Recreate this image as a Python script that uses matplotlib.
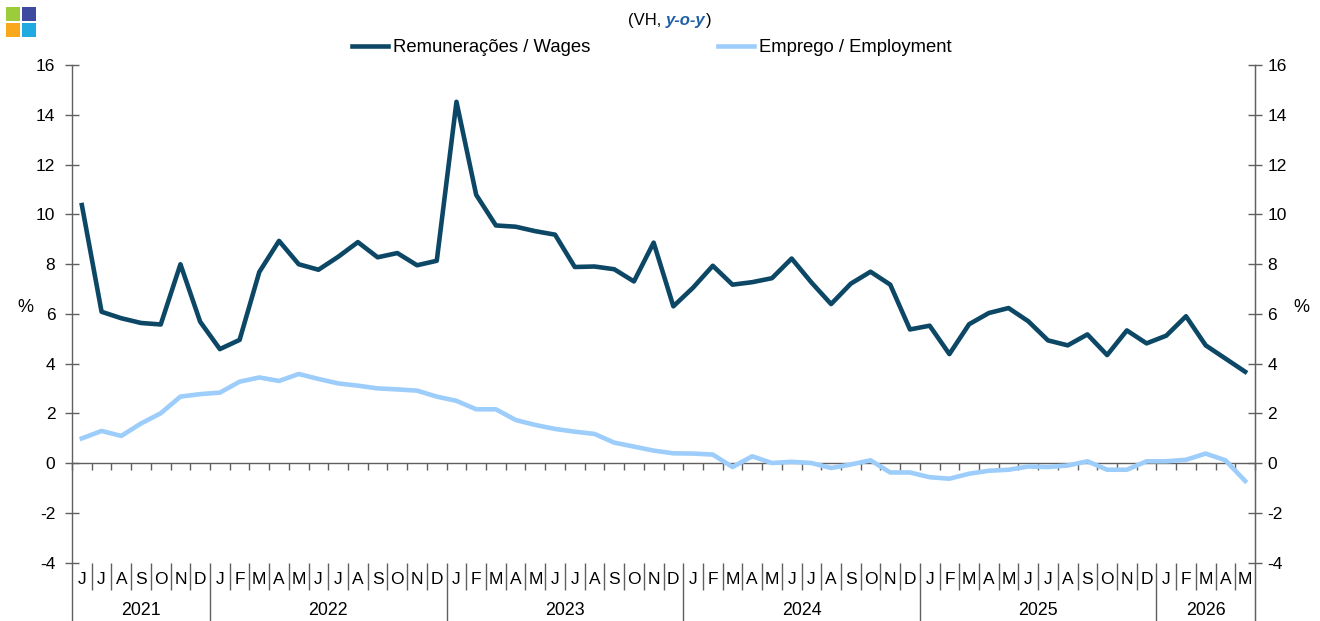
import matplotlib
matplotlib.use("Agg")
import matplotlib.pyplot as plt
from matplotlib.patches import Rectangle
from matplotlib.lines import Line2D
import numpy as np

plt.rcParams['font.family'] = ['Liberation Sans', 'DejaVu Sans']
plt.rcParams['axes.unicode_minus'] = False

# ---- data ----
months = (['J', 'J', 'A', 'S', 'O', 'N', 'D']
          + ['J', 'F', 'M', 'A', 'M', 'J', 'J', 'A', 'S', 'O', 'N', 'D'] * 4
          + ['J', 'F', 'M', 'A', 'M'])
years = ['2021', '2022', '2023', '2024', '2025', '2026']
year_counts = [7, 12, 12, 12, 12, 5]

wages = [10.37, 6.08, 5.82, 5.63, 5.57, 7.99, 5.68,
         4.58, 4.95, 7.68, 8.93, 7.99, 7.77, 8.29, 8.88, 8.27, 8.44, 7.95, 8.13,
         14.52, 10.78, 9.55, 9.50, 9.32, 9.18, 7.88, 7.90, 7.79, 7.30, 8.86, 6.30,
         7.05, 7.93, 7.17, 7.27, 7.43, 8.22, 7.26, 6.39, 7.21, 7.69, 7.17, 5.37,
         5.52, 4.38, 5.58, 6.03, 6.23, 5.70, 4.93, 4.73, 5.17, 4.34, 5.33, 4.81,
         5.12, 5.90, 4.73, 4.20, 3.67]
employment = [0.99, 1.29, 1.09, 1.59, 2.00, 2.67, 2.77,
              2.83, 3.27, 3.44, 3.30, 3.58, 3.38, 3.20, 3.11, 3.00, 2.96, 2.91, 2.67,
              2.50, 2.16, 2.16, 1.73, 1.53, 1.37, 1.26, 1.17, 0.82, 0.66, 0.50, 0.39,
              0.38, 0.34, -0.16, 0.27, 0.00, 0.05, 0.00, -0.20, -0.06, 0.11, -0.38, -0.38,
              -0.57, -0.63, -0.43, -0.31, -0.27, -0.14, -0.16, -0.10, 0.07, -0.27, -0.27, 0.07,
              0.07, 0.13, 0.38, 0.11, -0.72]

W, H = 1320, 621
fig = plt.figure(figsize=(W / 100, H / 100), dpi=100)
fig.patch.set_facecolor('white')

ax = fig.add_axes([72 / W, 0, (1255 - 72) / W, (621 - 65) / H])
n = len(months)
x = np.arange(n)
ylim = (-6.35, 16)
ax.set_xlim(-0.5, n - 0.5)
ax.set_ylim(*ylim)

wage_col = '#0c4866'
emp_col = '#9dcdfa'
ax.plot(x, employment, color=emp_col, lw=3.3, zorder=3)
ax.plot(x, wages, color=wage_col, lw=3.3, zorder=4)

axis_col = '#606060'
ax.spines['top'].set_visible(False)
ax.spines['bottom'].set_position(('data', 0))
for s in ['bottom', 'left', 'right']:
    ax.spines[s].set_color(axis_col)
    ax.spines[s].set_linewidth(1.0)

yticks = np.arange(-4, 17, 2)
ax.set_yticks(yticks)
ax.tick_params(axis='y', direction='inout', length=10, width=1, color=axis_col,
               left=True, right=False, labelleft=True, labelright=False,
               labelsize=12.5, pad=7)

ax2 = ax.twinx()
ax2.set_ylim(*ylim)
ax2.set_yticks(yticks)
for s in ['top', 'bottom', 'left']:
    ax2.spines[s].set_visible(False)
ax2.spines['right'].set_color(axis_col)
ax2.tick_params(axis='y', direction='inout', length=10, width=1, color=axis_col,
                labelsize=12.5, pad=4)

ax.set_xticks(np.arange(-0.5, n, 1))
ax.tick_params(axis='x', direction='out', length=5, width=1, color=axis_col,
               labelbottom=False)

# month and year labels
bounds = np.arange(0.5, n - 1, 1)
year_bounds = np.cumsum(year_counts)[:-1] - 0.5
month_bounds = [b for b in bounds if b not in set(year_bounds)]
ax.vlines(month_bounds, -4, -5.1, color=axis_col, lw=1)
ax.vlines(year_bounds, -4, -6.35, color=axis_col, lw=1)
for i, m in enumerate(months):
    ax.text(i, -4.7, m, ha='center', va='center', fontsize=12.5)
start = 0
for yr, c in zip(years, year_counts):
    ax.text(start + (c - 1) / 2, -5.92, yr, ha='center', va='center', fontsize=12.8)
    start += c

fig.text(25 / W, 1 - 308 / H, '%', ha='center', va='center', fontsize=13)
fig.text(1301 / W, 1 - 307 / H, '%', ha='center', va='center', fontsize=13)

# legend
handles = [Line2D([], [], color=wage_col, lw=3.3), Line2D([], [], color=emp_col, lw=3.3)]
fig.legend(handles, ['Remunerações / Wages', 'Emprego / Employment'],
           loc='center', bbox_to_anchor=(652 / W, 1 - 48 / H), ncol=2, frameon=False,
           fontsize=13.3, handlelength=1.95, handletextpad=0.27, columnspacing=6.9)

# subtitle
t1 = fig.text(628 / W, 1 - 20 / H, '(VH, ', ha='left', va='center', fontsize=12)
t2 = ax.annotate('y-o-y', xy=(1, 0), xycoords=t1, va='bottom', ha='left',
                 fontsize=12, fontstyle='italic', fontweight='bold', color='#1f5fa8')
ax.annotate(')', xy=(1, 0), xycoords=t2, va='bottom', ha='left', fontsize=12)

# logo
for (lx, ly, col) in [(6, 7, '#9ccc3c'), (22, 7, '#3d4aa0'),
                      (6, 23, '#f9a81b'), (22, 23, '#21a9e1')]:
    fig.add_artist(Rectangle((lx / W, 1 - (ly + 14) / H), 14 / W, 14 / H,
                             transform=fig.transFigure, color=col, lw=0))

fig.savefig('out.png', dpi=100)
